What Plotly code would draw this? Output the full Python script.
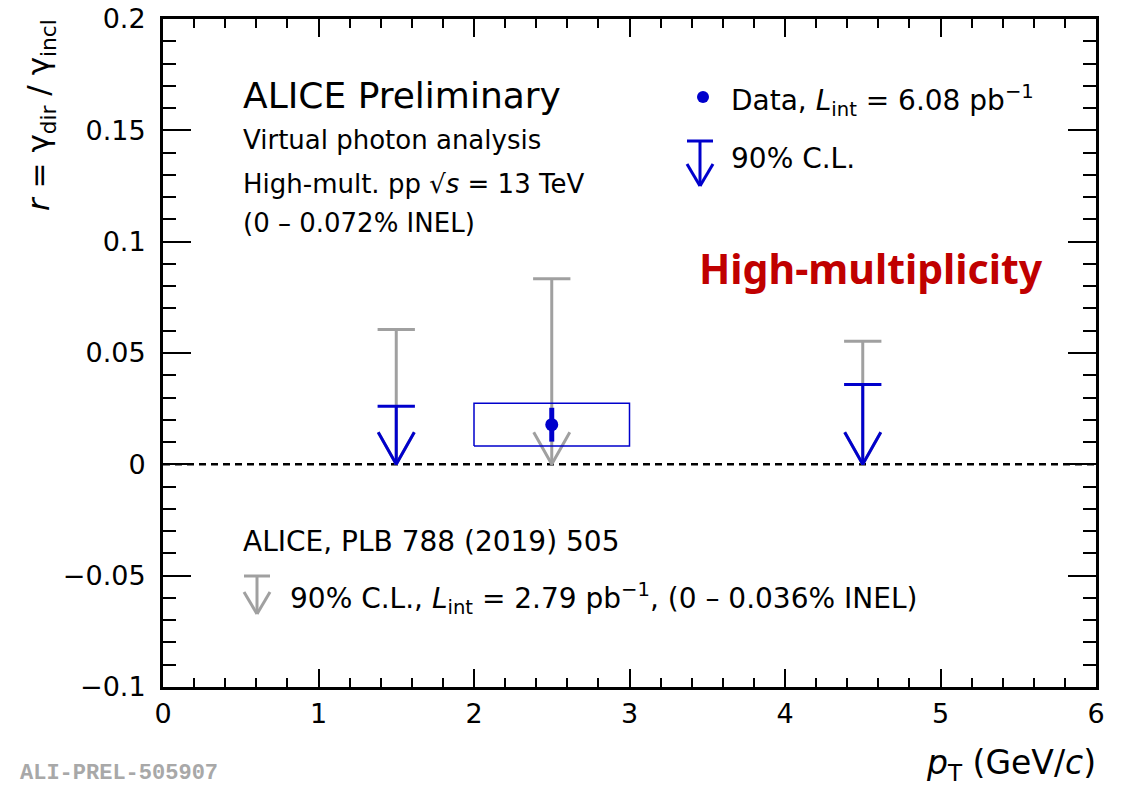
import plotly.graph_objects as go

# ---------------- data ----------------
# old published 90% C.L. upper limits (grey)
old_pt = [1.5, 2.5, 4.5]
old_ul = [0.0606, 0.0834, 0.0553]
# new high-multiplicity 90% C.L. upper limits (blue)
new_ul_pt = [1.5, 4.5]
new_ul = [0.0261, 0.0358]
# new measured point
data_pt = [2.5]
data_r = [0.0178]
data_stat = [0.0076]
data_sys = [0.0096]
data_binlo = [2.0]
data_binhi = [3.0]

x_ticks = [0, 1, 2, 3, 4, 5, 6]
x_ticktext = ["0", "1", "2", "3", "4", "5", "6"]
y_ticks = [-0.1, -0.05, 0, 0.05, 0.1, 0.15, 0.2]
y_ticktext = ["\u22120.1", "\u22120.05", "0", "0.05", "0.1", "0.15", "0.2"]

# ---------------- style ----------------
BLUE = "rgb(0,0,204)"
GREY = "rgb(160,160,160)"
RED = "rgb(192,0,0)"
FONT = "DejaVu Sans"
CAP_HW = 0.12      # half width of limit cap (x units)
HEAD_HW = 0.116    # half width of arrow head (x units)
HEAD_H = 0.0144    # height of arrow head (y units)

W, H = 1126, 786
OFF = 8            # page body margin offset
L, R, T, B = 163 - OFF, 1096 - OFF, 19 - OFF, 687 - OFF


def px(x):
    return (x - OFF - L) / (R - L)


def py(y):
    return (B - (y - OFF)) / (B - T)


def arrow_path(xs, ys):
    X, Y = [], []
    for x, u in zip(xs, ys):
        X += [x - CAP_HW, x + CAP_HW, None, x, x, None,
              x - HEAD_HW, x, x + HEAD_HW, None]
        Y += [u, u, None, u, 0, None, HEAD_H, 0, HEAD_H, None]
    return X, Y


fig = go.Figure()

# zero line
fig.add_trace(go.Scatter(x=[x_ticks[0], x_ticks[-1]], y=[0, 0], mode="lines",
                         line=dict(color="black", width=2.5, dash="7px,5px"),
                         hoverinfo="skip", showlegend=False))

gx, gy = arrow_path(old_pt, old_ul)
fig.add_trace(go.Scatter(x=gx, y=gy, mode="lines",
                         line=dict(color=GREY, width=3), showlegend=False))

# systematic box
bx, by = [], []
for lo, hi, r, s in zip(data_binlo, data_binhi, data_r, data_sys):
    bx += [lo, hi, hi, lo, lo, None]
    by += [r - s, r - s, r + s, r + s, r - s, None]
fig.add_trace(go.Scatter(x=bx, y=by, mode="lines",
                         line=dict(color=BLUE, width=1.5), showlegend=False))

bxl, byl = arrow_path(new_ul_pt, new_ul)
fig.add_trace(go.Scatter(x=bxl, y=byl, mode="lines",
                         line=dict(color=BLUE, width=3), showlegend=False))

fig.add_trace(go.Scatter(x=data_pt, y=data_r, mode="markers",
                         marker=dict(color=BLUE, size=13),
                         error_y=dict(type="data", array=data_stat, color=BLUE,
                                      thickness=5, width=0),
                         showlegend=False))

# ---------------- annotations ----------------
ann = []


def text(x, y, s, size, xanchor="left", color="black", family=FONT, **kw):
    ann.append(dict(x=px(x), y=py(y), xref="paper", yref="paper", text=s,
                    showarrow=False, xanchor=xanchor, yanchor="middle",
                    font=dict(size=size, color=color, family=family), **kw))


text(241, 95, "ALICE Preliminary", 36)
text(241, 140, "Virtual photon analysis", 26)
text(241, 184, "High-mult. pp \u221a<i>s</i> = 13 TeV", 26)
text(241, 223, "(0 \u2013 0.072% INEL)", 26)
text(729, 100, "Data, <i>L</i><sub>int</sub> = 6.08 pb<sup>\u22121</sup>", 28)
text(729, 158, "90% C.L.", 28)
text(871, 268, "<b>High-multiplicity</b>", 41, xanchor="center", color=RED,
     family="Noto Sans")
text(241, 541, "ALICE, PLB 788 (2019) 505", 28)
text(288, 598, "90% C.L., <i>L</i><sub>int</sub> = 2.79 pb<sup>\u22121</sup>, (0 \u2013 0.036% INEL)", 28)
text(18, 773, "<b>ALI-PREL-505907</b>", 22, color="rgb(168,168,168)",
     family="Liberation Mono")
text(1098, 764, "<i>p</i><sub>T</sub> (GeV/<i>c</i>)", 33, xanchor="right")

ann.append(dict(x=px(40), y=py(17), xref="paper", yref="paper",
                text="<i>r</i> = \u03b3<sub>dir</sub> / \u03b3<sub>incl</sub>",
                textangle=-90, showarrow=False, xanchor="center", yanchor="top",
                font=dict(size=31, family=FONT, color="black")))

# legend glyphs
shapes = []


def seg(x0, y0, x1, y1, color, width=3):
    shapes.append(dict(type="line", xref="paper", yref="paper",
                       x0=px(x0), y0=py(y0), x1=px(x1), y1=py(y1),
                       line=dict(color=color, width=width)))


def legend_arrow(xc, ytop, ytip, color):
    seg(xc - 13, ytop, xc + 13, ytop, color)
    seg(xc, ytop, xc, ytip, color)
    seg(xc - 13, ytip - 22, xc, ytip, color)
    seg(xc, ytip, xc + 13, ytip - 22, color)


legend_arrow(700, 141, 186, BLUE)
legend_arrow(257, 576, 614, GREY)
shapes.append(dict(type="circle", xref="paper", yref="paper",
                   x0=px(697), x1=px(709), y0=py(91), y1=py(103),
                   fillcolor=BLUE, line=dict(color=BLUE, width=0)))

axis_common = dict(showline=True, linecolor="black", linewidth=3,
                   mirror="ticks", ticks="inside", tickcolor="black",
                   tickwidth=2, showgrid=False, zeroline=False,
                   automargin=False, ticklabeloverflow="allow",
                   tickfont=dict(family=FONT, size=27, color="black"))

fig.update_layout(
    width=W, height=H,
    margin=dict(l=L, r=W - R, t=T, b=H - B, autoexpand=False),
    paper_bgcolor="white", plot_bgcolor="white",
    showlegend=False,
    annotations=ann, shapes=shapes,
    xaxis=dict(range=[0, 6], tickmode="array", tickvals=x_ticks,
               ticktext=x_ticktext, ticklen=18, ticklabelstandoff=1,
               minor=dict(dtick=0.2, tick0=0, ticklen=9, tickwidth=2,
                          tickcolor="black", ticks="inside", showgrid=False),
               **axis_common),
    yaxis=dict(range=[-0.1, 0.2], tickmode="array", tickvals=y_ticks,
               ticktext=y_ticktext, ticklen=28, ticklabelstandoff=9,
               minor=dict(dtick=0.01, tick0=0, ticklen=13, tickwidth=2,
                          tickcolor="black", ticks="inside", showgrid=False),
               **axis_common),
)

fig.write_html("out.html")
